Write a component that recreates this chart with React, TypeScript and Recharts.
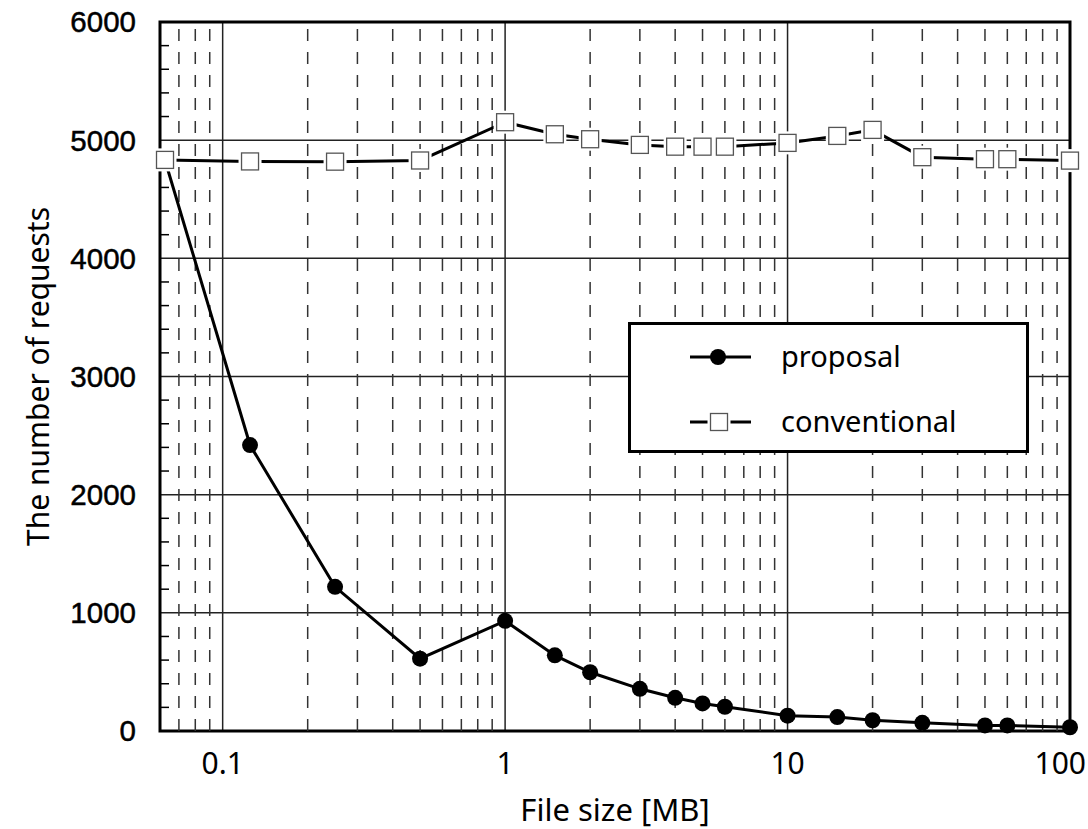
import {
  CartesianGrid,
  Label,
  Legend,
  Line,
  LineChart,
  ReferenceArea,
  ReferenceLine,
  XAxis,
  YAxis
} from 'recharts';

const fileSizes = [0.0625, 0.125, 0.25, 0.5, 1, 1.5, 2, 3, 4, 5, 6, 10, 15, 20, 30, 50, 60, 100];
const proposal = [4830, 2420, 1220, 612, 932, 640, 497, 357, 281, 233, 205, 130, 118, 91, 69, 47, 47, 32];
const conventional = [4833, 4820, 4818, 4828, 5152, 5050, 5008, 4960, 4945, 4945, 4945, 4977, 5036, 5087, 4856, 4839, 4839, 4827];
const seriesNames = ['proposal', 'conventional'];

const xTicks = [0.1, 1, 10, 100];
const xMinorTicks = [
  0.07, 0.08, 0.09,
  0.2, 0.3, 0.4, 0.5, 0.6, 0.7, 0.8, 0.9,
  2, 3, 4, 5, 6, 7, 8, 9,
  20, 30, 40, 50, 60, 70, 80, 90
];
const yTicks = [0, 1000, 2000, 3000, 4000, 5000, 6000];
const yMinorTicks = [
  200, 400, 600, 800, 1200, 1400, 1600, 1800, 2200, 2400, 2600, 2800,
  3200, 3400, 3600, 3800, 4200, 4400, 4600, 4800, 5200, 5400, 5600, 5800
];

const data = fileSizes.map((size, i) => ({
  size,
  proposal: proposal[i],
  conventional: conventional[i]
}));

const textFont = '"Noto Sans", sans-serif';

function SquareDot({ cx, cy }: { cx?: number; cy?: number }) {
  if (cx == null || cy == null) return null;
  return (
    <g>
      <rect x={cx - 11.5} y={cy - 11.5} width={23} height={23} fill="#fff" />
      <rect x={cx - 8.5} y={cy - 8.5} width={17} height={17} fill="#fff" stroke="#555" strokeWidth={1.3} />
    </g>
  );
}

function ChartLegend({ payload }: any) {
  const items = [...(payload ?? [])].sort(
    (a: any, b: any) => seriesNames.indexOf(a.value) - seriesNames.indexOf(b.value)
  );
  return (
    <svg width={401} height={131} style={{ display: 'block' }}>
      <rect x={1.5} y={1.5} width={398} height={128} fill="#fff" stroke="#000" strokeWidth={3} />
      {items.map((item: any, i: number) => {
        const y = 35 + i * 65;
        return (
          <g key={item.value}>
            <line x1={62} x2={123} y1={y} y2={y} stroke="#000" strokeWidth={3} />
            {item.value === 'proposal' ? (
              <circle cx={90} cy={y} r={8} fill="#000" />
            ) : (
              <SquareDot cx={91} cy={y} />
            )}
            <text x={153} y={y} dy="0.35em" fontSize={29} fontFamily={textFont} fill="#000">
              {item.value}
            </text>
          </g>
        );
      })}
    </svg>
  );
}

// last label is pulled inside the frame, like the original
function XTick({ x, y, payload, index }: any) {
  const last = index === xTicks.length - 1;
  return (
    <text
      x={last ? x + 16 : x}
      y={y}
      dy="0.71em"
      textAnchor={last ? 'end' : 'middle'}
      fontSize={30}
      fontFamily={textFont}
      fill="#000"
    >
      {String(payload.value)}
    </text>
  );
}

function YTitle({ viewBox }: any) {
  const x = viewBox.x + 37;
  const y = viewBox.y + viewBox.height / 2;
  return (
    <text
      x={x}
      y={y}
      transform={`rotate(-90 ${x} ${y})`}
      textAnchor="middle"
      dominantBaseline="central"
      fontSize={30}
      fontFamily={textFont}
      fill="#000"
    >
      The number of requests
    </text>
  );
}

export default function App() {
  return (
    <div style={{ position: 'absolute', left: 0, top: 0 }}>
      <LineChart
        width={1088}
        height={829}
        data={data}
        margin={{ top: 22, right: 18, bottom: 0, left: 0 }}
        style={{ background: '#fff' }}
      >
        <CartesianGrid stroke="#222" strokeWidth={1.5} />
        {xMinorTicks.map((v) => (
          <ReferenceLine key={`xm-${v}`} x={v} stroke="#333" strokeWidth={1.5} strokeDasharray="12 11" />
        ))}
        <XAxis
          dataKey="size"
          type="number"
          scale="log"
          domain={[0.06, 100]}
          ticks={xTicks}
          tickLine={false}
          axisLine={false}
          tickSize={0}
          tickMargin={22}
          height={98}
          tick={<XTick />}
        >
          <Label
            value="File size [MB]"
            position="insideBottom"
            offset={8}
            style={{ fontSize: 31, fontFamily: textFont, fill: '#000' }}
          />
        </XAxis>
        <YAxis
          type="number"
          domain={[0, 6000]}
          ticks={yTicks}
          tickLine={false}
          axisLine={false}
          tickSize={0}
          tickMargin={24}
          width={160}
          tick={{ fill: '#000', fontSize: 29.5, fontFamily: '"Liberation Sans", Arial', stroke: '#000', strokeWidth: 0.5 }}
        >
          <Label content={<YTitle />} />
        </YAxis>
        <ReferenceArea
          y1={yTicks[0]}
          y2={yTicks[yTicks.length - 1]}
          fill="none"
          fillOpacity={0}
          stroke="#000"
          strokeWidth={3}
          ifOverflow="visible"
        />
        {yMinorTicks.map((v) => (
          <ReferenceLine
            key={`ym-${v}`}
            y={v}
            stroke="#000"
            strokeWidth={1.5}
            shape={(p: any) => <line x1={p.x1} x2={p.x1 + 9} y1={p.y1} y2={p.y1} stroke="#000" strokeWidth={1.5} />}
          />
        ))}
        <Line
          dataKey="proposal"
          name="proposal"
          stroke="#000"
          strokeWidth={3}
          dot={{ r: 8, fill: '#000', stroke: '#000', strokeWidth: 0 }}
          activeDot={false}
          isAnimationActive={false}
        />
        <Line
          dataKey="conventional"
          name="conventional"
          stroke="#000"
          strokeWidth={3}
          dot={(p: any) => <SquareDot key={`sq-${p.index}`} cx={p.cx} cy={p.cy} />}
          activeDot={false}
          isAnimationActive={false}
        />
        <Legend
          layout="vertical"
          align="center"
          verticalAlign="middle"
          content={<ChartLegend />}
          wrapperStyle={{ left: 628, top: 322, width: 401, height: 131 }}
        />
      </LineChart>
    </div>
  );
}
